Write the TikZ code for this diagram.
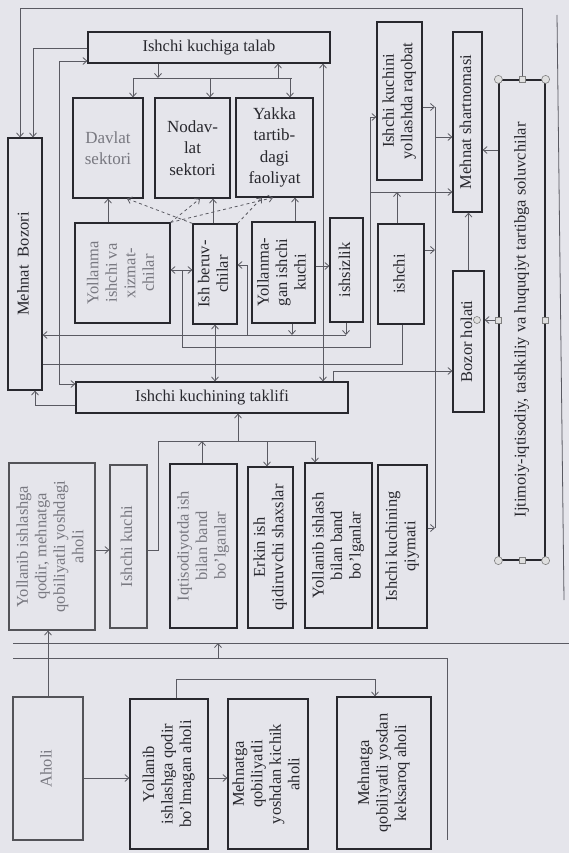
\documentclass[tikz,border=0pt]{standalone}
\usepackage{fontspec}
\setmainfont{Liberation Serif}
\usepackage{graphicx}
\usetikzlibrary{arrows.meta}

\definecolor{paper}{RGB}{229,229,235}
\definecolor{ink}{RGB}{40,40,46}
\definecolor{fade}{RGB}{120,120,128}
\definecolor{wire}{RGB}{90,90,98}

\newcommand{\vtext}[1]{\rotatebox{90}{\begin{tabular}{@{}c@{}}#1\end{tabular}}}

\begin{document}
\begin{tikzpicture}[x=1pt, y=-1pt,
    box/.style = {draw=ink, line width=1.2pt, inner sep=0pt, text=ink, font=\fontsize{16.5}{18.5}\selectfont},
    pale/.style = {box, draw=ink!80, text=fade},
    wide/.style = {box, align=center, font=\fontsize{17}{21.5}\selectfont},
    link/.style = {draw=wire, line width=0.8pt},
    handle/.style = {draw=gray, fill=gray!25, line width=0.6pt, inner sep=0pt},
    >={Straight Barb[length=4pt,width=7pt]}]

    \fill[paper] (0,0) rectangle (569,853);
    \useasboundingbox (0,0) rectangle (569,853);

    % market and demand
    \node[box, minimum width=242pt, minimum height=31pt] (talab) at (209,47.5) {Ishchi kuchiga talab};
    \node[wide, text=fade, minimum width=70pt, minimum height=100pt] (davlat) at (108,148) {Davlat\\sektori};
    \node[wide, minimum width=75pt, minimum height=100pt] (nodavlat) at (192.5,148) {Nodav-\\lat\\sektori};
    \node[wide, minimum width=77pt, minimum height=99pt] (yakka) at (274.5,147.5) {Yakka\\tartib-\\dagi\\faoliyat};
    \node[box, minimum width=34pt, minimum height=252pt] (bozori) at (25,264) {\vtext{Mehnat\ \ Bozori}};
    \node[box, text=fade, minimum width=95pt, minimum height=100pt] (yollanma) at (122.5,273) {\vtext{Yollanma\\ishchi va\\xizmat-\\chilar}};
    \node[box, minimum width=44pt, minimum height=100pt] (beruvchi) at (215,274) {\vtext{Ish beruv-\\chilar}};
    \node[box, minimum width=63pt, minimum height=101pt] (yollanmagan) at (283.5,272.5) {\vtext{Yollanma-\\gan ishchi\\kuchi}};
    \node[box, minimum width=33pt, minimum height=104pt] (ishsizlik) at (346.5,270) {\vtext{ishsizlik}};
    \node[box, minimum width=46pt, minimum height=100pt] (ishchi) at (401,274) {\vtext{ishchi}};
    \node[box, minimum width=45pt, minimum height=158pt] (raqobat) at (399.5,101) {\vtext{Ishchi kuchini\\yollashda raqobat}};
    \node[box, minimum width=29pt, minimum height=180pt] (shartnoma) at (467.5,122) {\vtext{Mehnat shartnomasi}};
    \node[box, minimum width=31pt, minimum height=141pt] (holati) at (468.5,341.5) {\vtext{Bozor holati}};
    \node[box, minimum width=46pt, minimum height=480pt] (ijtimoiy) at (522,320) {\vtext{Ijtimoiy-iqtisodiy, tashkiliy va huquqiyt tartibga soluvchilar}};
    \node[box, minimum width=272pt, minimum height=31pt] (taklif) at (212,397.5) {Ishchi kuchining taklifi};

    % supply
    \node[pale, minimum width=86pt, minimum height=167pt] (qodir) at (52,546.5) {\vtext{Yollanib ishlashga\\qodir, mehnatga\\qobiliyatli yoshdagi\\aholi}};
    \node[pale, minimum width=37pt, minimum height=163pt] (kuchi) at (128.5,546.5) {\vtext{Ishchi kuchi}};
    \node[box, text=fade, minimum width=67pt, minimum height=164pt] (iqtisod) at (203.5,546) {\vtext{Iqtisodiyotda ish\\bilan band\\bo'lganlar}};
    \node[box, minimum width=45pt, minimum height=161pt] (erkin) at (270.5,547.5) {\vtext{Erkin ish\\qidiruvchi shaxslar}};
    \node[box, minimum width=67pt, minimum height=165pt] (bandlar) at (338.5,545.5) {\vtext{Yollanib ishlash\\bilan band\\bo'lganlar}};
    \node[box, minimum width=49pt, minimum height=163pt] (qiymat) at (402.5,546.5) {\vtext{Ishchi kuchining\\qiymati}};

    % population
    \node[pale, minimum width=70pt, minimum height=143pt] (aholi) at (48,768.5) {\vtext{Aholi}};
    \node[box, minimum width=78pt, minimum height=150pt] (qodirmas) at (169,774) {\vtext{Yollanib\\ishlashga qodir\\bo'lmagan aholi}};
    \node[box, minimum width=80pt, minimum height=150pt] (kichik) at (268,774) {\vtext{Mehnatga\\qobiliyatli\\yoshdan kichik\\aholi}};
    \node[box, minimum width=94pt, minimum height=152pt] (keksa) at (384,773) {\vtext{Mehnatga\\qobiliyatli yosdan\\keksaroq aholi}};

    % demand side links
    \draw[link,->] (ijtimoiy.north) -- (522,8) -- (20,8) -- (20,0 |- bozori.north);
    \draw[link,->] (talab.west |- 0,48) -- (33,48) -- (33,0 |- bozori.north);
    \draw[link,<->] (talab.west |- 0,61) -- (59,61) -- (59,384) -- (taklif.west |- 0,384);
    \draw[link,->] (taklif.west |- 0,405) -- (35,405) -- (35,0 |- bozori.south);
    \draw[link,->] (158,0 |- talab.south) -- (158,78);
    \draw[link] (133,78) -- (292,78);
    \draw[link,->] (133,78) -- (133,0 |- davlat.north);
    \draw[link,->] (210,78) -- (210,0 |- nodavlat.north);
    \draw[link,->] (290,78) -- (290,0 |- yakka.north);
    \draw[link,->] (278,78) -- (278,0 |- talab.south);

    % employment links
    \draw[link,->] (108,0 |- yollanma.north) -- (108,0 |- davlat.south);
    \draw[link,->] (213,0 |- beruvchi.north) -- (213,0 |- nodavlat.south);
    \draw[link,->] (295,0 |- yollanmagan.north) -- (295,0 |- yakka.south);
    \draw[link,->,dashed] (beruvchi.north west) -- (127,0 |- davlat.south);
    \draw[link,->,dashed] (yollanma.north east) -- (200,0 |- nodavlat.south);
    \draw[link,->,dashed] (yollanma.north east) -- (273,0 |- yakka.south);
    \draw[link,->,dashed] (beruvchi.north east) -- (262,0 |- yakka.south);
    \draw[link,<->] (yollanma.east |- 0,270) -- (beruvchi.west |- 0,270);
    \draw[link,->] (yollanmagan.east |- 0,266) -- (ishsizlik.west |- 0,266);
    \draw[link,<->] (beruvchi.south) -- (beruvchi.south |- taklif.north);
    \draw[link,->] (292,0 |- yollanmagan.south) -- (292,335);
    \draw[link,->] (346,0 |- ishsizlik.south) -- (346,335);
    \draw[link,->] (346,335) -- (bozori.east |- 0,335);
    \draw[link,->] (247,335) -- (247,265) -- (beruvchi.east |- 0,265);
    \draw[link] (182,270) -- (182,347) -- (370,347) -- (370,117);
    \draw[link,->] (370,117) -- (raqobat.west |- 0,117);
    \draw[link,->] (370,192) -- (shartnoma.west |- 0,192);
    \draw[link,->] (397,0 |- ishchi.north) -- (397,192);
    \draw[link] (402,0 |- ishchi.south) -- (402,364) -- (bozori.east |- 0,364);
    \draw[link,<->] (323,0 |- talab.south) -- (323,0 |- taklif.north);
    \draw[link,->] (333,0 |- taklif.north) -- (333,371) -- (holati.west |- 0,371);

    % contract links
    \draw[link] (435,107) -- (435,528);
    \draw[link,->] (raqobat.east |- 0,107) -- (435,107);
    \draw[link,->] (435,137) -- (shartnoma.west |- 0,137);
    \draw[link,->] (ishchi.east |- 0,250) -- (435,250);
    \draw[link,->] (qiymat.east |- 0,528) -- (435,528);
    \draw[link,->] (holati.north) -- (holati.north |- shartnoma.south);
    \draw[link,->] (ijtimoiy.west |- 0,150) -- (shartnoma.east |- 0,150);
    \draw[link,->] (ijtimoiy.west) -- (holati.east |- ijtimoiy.west);

    % supply links
    \draw[link,->] (qodir.east |- 0,550) -- (kuchi.west |- 0,550);
    \draw[link] (kuchi.east |- 0,550) -- (158,550) -- (158,441) -- (315,441);
    \draw[link,->] (202,0 |- iqtisod.north) -- (202,441);
    \draw[link,->] (238,441) -- (238,0 |- taklif.south);
    \draw[link,->] (267,441) -- (267,0 |- erkin.north);
    \draw[link,->] (315,441) -- (315,0 |- bandlar.north);

    % population links
    \draw[link] (13,643) -- (569,643);
    \draw[link] (13,658) -- (447,658) -- (447,840);
    \draw[link,->] (218,658) -- (218,643);
    \draw[link,->] (aholi.north) -- (aholi.north |- qodir.south);
    \draw[link,->] (aholi.east |- 0,778) -- (qodirmas.west |- 0,778);
    \draw[link,->] (qodirmas.east |- 0,778) -- (kichik.west |- 0,778);
    \draw[link,->] (176,0 |- qodirmas.north) -- (176,679) -- (375,679) -- (375,0 |- keksa.north);
    \draw[link] (557,15) -- (564,600);

    % selection handles
    \node[handle, circle, minimum size=8pt] (hnw) at (ijtimoiy.north west) {};
    \node[handle, circle, minimum size=8pt] (hne) at (ijtimoiy.north east) {};
    \node[handle, circle, minimum size=8pt] (hsw) at (ijtimoiy.south west) {};
    \node[handle, circle, minimum size=8pt] (hse) at (ijtimoiy.south east) {};
    \node[handle, minimum size=6pt] (hn) at (ijtimoiy.north) {};
    \node[handle, minimum size=6pt] (hs) at (ijtimoiy.south) {};
    \node[handle, minimum size=6pt] (hw) at (ijtimoiy.west) {};
    \node[handle, minimum size=6pt] (he) at (ijtimoiy.east) {};
    \node[handle, circle, minimum size=7pt] (hb) at (477,320) {};
\end{tikzpicture}
\end{document}
